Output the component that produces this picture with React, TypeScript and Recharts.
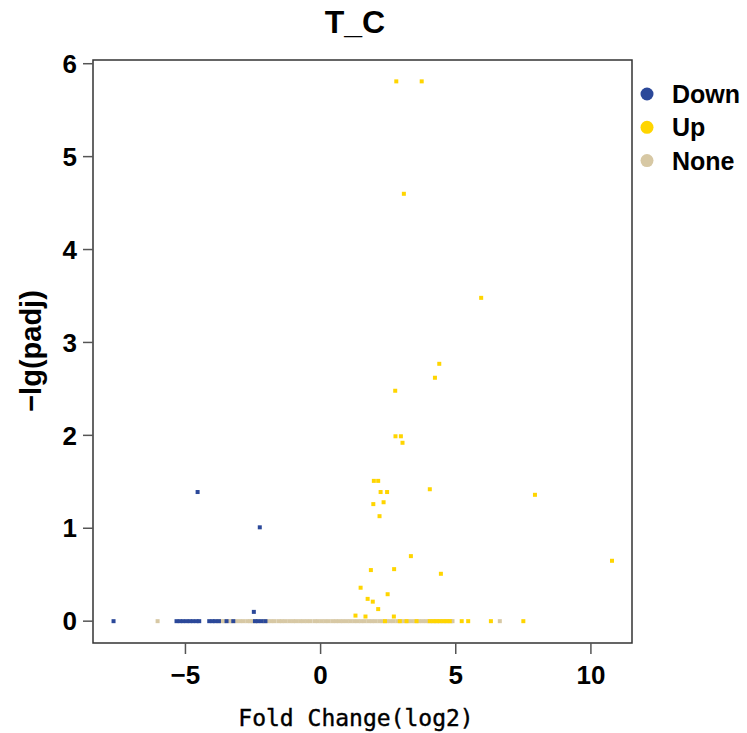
import { ScatterChart, Scatter, XAxis, YAxis, ReferenceArea } from 'recharts';

// ─── データ（[log2FC, -lg(padj)]） ───────────────────────────────────────────

const downPoints: [number, number][] = [
  [-4.55, 1.39], [-2.25, 1.01], [-2.47, 0.1],
  [-7.66, 0], [-5.33, 0], [-5.21, 0], [-5.09, 0], [-4.96, 0], [-4.84, 0], [-4.72, 0],
  [-4.59, 0], [-4.49, 0], [-4.12, 0], [-4.0, 0], [-3.9, 0], [-3.76, 0], [-3.48, 0],
  [-3.23, 0], [-2.43, 0], [-2.31, 0], [-2.18, 0], [-2.04, 0],
];

const upPoints: [number, number][] = [
  [2.8, 5.81], [3.74, 5.81], [3.08, 4.6], [5.94, 3.48], [4.39, 2.77], [4.23, 2.62],
  [2.76, 2.48], [2.77, 1.99], [2.97, 1.99], [3.03, 1.92], [1.97, 1.51], [2.13, 1.51],
  [2.22, 1.39], [2.46, 1.39], [4.04, 1.42], [7.93, 1.36], [1.95, 1.26], [2.33, 1.28],
  [2.18, 1.13], [3.34, 0.7], [10.78, 0.65], [1.86, 0.55], [2.72, 0.56], [4.45, 0.51],
  [1.48, 0.36], [2.48, 0.29], [1.74, 0.24], [1.93, 0.21], [2.13, 0.13], [1.29, 0.06],
  [1.66, 0.05], [2.71, 0.05],
  [2.38, 0], [2.93, 0], [3.18, 0], [3.55, 0], [4.04, 0], [4.17, 0], [4.29, 0], [4.41, 0],
  [4.54, 0], [4.66, 0], [4.78, 0], [5.22, 0], [5.46, 0], [6.3, 0], [7.5, 0],
];

const nonePoints: [number, number][] = [
  [-6.03, 0], [6.63, 0], [4.88, 0],
  [-3.8, 0], [-3.66, 0], [-3.55, 0], [-3.38, 0], [-3.3, 0], [-3.12, 0], [-2.98, 0],
  [-2.85, 0], [-2.71, 0], [-2.6, 0], [-2.52, 0], [-2.38, 0], [-2.1, 0], [-1.96, 0],
  [-1.83, 0], [-1.7, 0], [-1.55, 0], [-1.43, 0], [-1.3, 0], [-1.16, 0], [-1.02, 0],
  [-0.9, 0], [-0.76, 0], [-0.63, 0], [-0.5, 0], [-0.37, 0], [-0.22, 0], [-0.1, 0],
  [0.04, 0], [0.17, 0], [0.3, 0], [0.44, 0], [0.57, 0], [0.7, 0], [0.83, 0], [0.97, 0],
  [1.1, 0], [1.24, 0], [1.37, 0], [1.5, 0], [1.63, 0], [1.77, 0], [1.9, 0], [2.03, 0],
  [2.17, 0], [2.3, 0], [2.44, 0], [2.57, 0], [2.7, 0], [2.84, 0], [2.97, 0], [3.1, 0],
  [3.24, 0], [3.37, 0], [3.5, 0], [3.64, 0], [3.77, 0], [3.9, 0], [4.03, 0], [4.17, 0],
  [4.3, 0], [4.43, 0], [4.57, 0], [4.7, 0], [4.83, 0],
];

const xTicks = [-5, 0, 5, 10];
const yTicks = [0, 1, 2, 3, 4, 5, 6];
const xDomain: [number, number] = [-8.42, 11.52];
const yDomain: [number, number] = [-0.235, 6.04];

const legendItems = [
  { name: 'Down', color: '#2b4899' },
  { name: 'Up', color: '#ffd500' },
  { name: 'None', color: '#d7c8a4' },
];

const COLORS = { down: '#2b4899', up: '#ffd500', none: '#d7c8a4' };

const toObjs = (pts: [number, number][]) => pts.map(([x, y]) => ({ x, y }));

function squareShape(color: string) {
  return (props: any) => (
    <rect x={props.cx - 2} y={props.cy - 2} width={4} height={4} fill={color} />
  );
}

const SANS = '"Liberation Sans", Arial, sans-serif';
const tickFont = { fontFamily: SANS, fontWeight: 700, fontSize: 26, fill: '#000' };

const fmt = (v: number) => (v < 0 ? `\u2212${Math.abs(v)}` : `${v}`);

export default function App() {
  return (
    <div style={{ position: 'absolute', left: 0, top: 0, width: 747, height: 733, background: '#fff' }}>
      <ScatterChart width={747} height={733} margin={{ top: 60, right: 115, bottom: 40, left: 33 }}>
        <XAxis
          type="number"
          dataKey="x"
          domain={xDomain}
          ticks={xTicks}
          allowDataOverflow
          height={50}
          axisLine={false}
          tickSize={11}
          tickMargin={12}
          tickLine={{ stroke: '#555', strokeWidth: 1.5 }}
          tick={tickFont}
          tickFormatter={fmt}
        />
        <YAxis
          type="number"
          dataKey="y"
          domain={yDomain}
          ticks={yTicks}
          allowDataOverflow
          width={60}
          axisLine={false}
          tickSize={10}
          tickMargin={6}
          tickLine={{ stroke: '#555', strokeWidth: 1.5 }}
          tick={tickFont}
        />
        <ReferenceArea
          x1={xDomain[0]}
          x2={xDomain[1]}
          y1={yDomain[0]}
          y2={yDomain[1]}
          fill="none"
          stroke="#333"
          strokeWidth={1.5}
          fillOpacity={0}
        />
        <Scatter name="None" data={toObjs(nonePoints)} shape={squareShape(COLORS.none)} isAnimationActive={false} />
        <Scatter name="Down" data={toObjs(downPoints)} shape={squareShape(COLORS.down)} isAnimationActive={false} />
        <Scatter name="Up" data={toObjs(upPoints)} shape={squareShape(COLORS.up)} isAnimationActive={false} />
      </ScatterChart>

      <svg width={747} height={733} style={{ position: 'absolute', left: 0, top: 0, pointerEvents: 'none' }}>
        <text x={355} y={33} textAnchor="middle" fontFamily={SANS} fontWeight={700} fontSize={32}>
          T_C
        </text>
        <text transform="translate(41, 351) rotate(-90)" textAnchor="middle" fontFamily={SANS} fontWeight={700} fontSize={29}>
          −lg(padj)
        </text>
        <text
          x={356}
          y={726}
          textAnchor="middle"
          fontFamily='"DejaVu Sans Mono", monospace'
          fontSize={23}
          stroke="#000"
          strokeWidth={0.4}
        >
          Fold Change(log2)
        </text>
        {legendItems.map((d, i) => (
          <g key={d.name}>
            <circle cx={647} cy={94 + i * 33.3} r={6.5} fill={d.color} />
            <text x={672} y={94 + i * 33.3} dy="0.36em" fontFamily={SANS} fontWeight={700} fontSize={25}>
              {d.name}
            </text>
          </g>
        ))}
      </svg>
    </div>
  );
}
